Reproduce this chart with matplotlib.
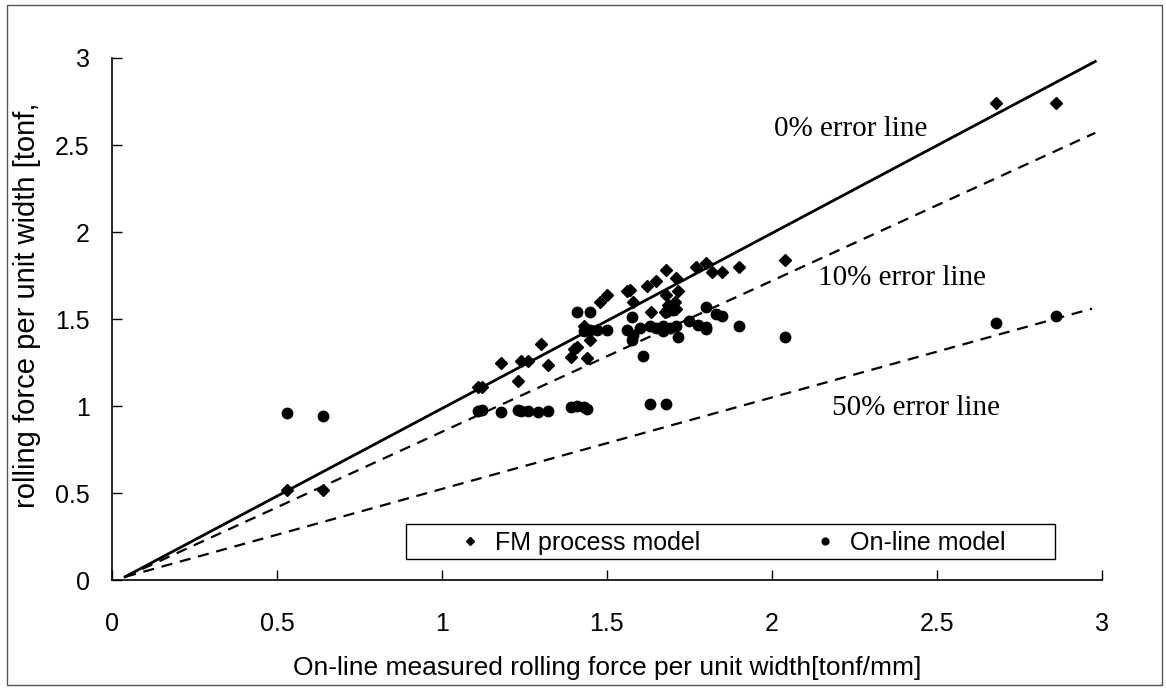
import matplotlib
matplotlib.use("Agg")
import matplotlib.pyplot as plt
from matplotlib.patches import Rectangle

# FM process model (diamonds)
fm_x = [0.53, 0.64, 1.11, 1.12, 1.18, 1.23, 1.24, 1.26, 1.30, 1.32, 1.39, 1.40,
        1.41, 1.43, 1.44, 1.45, 1.48, 1.50, 1.56, 1.57, 1.58, 1.62, 1.635, 1.65,
        1.68, 1.71, 1.68, 1.715, 1.706, 1.71, 1.685, 1.676, 1.77, 1.80, 1.82,
        1.85, 1.90, 2.04, 2.68, 2.86]
fm_y = [0.52, 0.52, 1.11, 1.11, 1.25, 1.145, 1.26, 1.26, 1.36, 1.235, 1.28, 1.33,
        1.34, 1.46, 1.275, 1.38, 1.60, 1.64, 1.66, 1.67, 1.60, 1.69, 1.54, 1.72,
        1.78, 1.735, 1.64, 1.66, 1.60, 1.56, 1.58, 1.54, 1.80, 1.82, 1.77,
        1.77, 1.80, 1.84, 2.74, 2.74]

# On-line model (circles)
ol_x = [0.53, 0.64, 1.11, 1.12, 1.18, 1.23, 1.24, 1.26, 1.29, 1.32, 1.39, 1.41,
        1.43, 1.44, 1.63, 1.68, 1.41, 1.45, 1.43, 1.45, 1.47, 1.50, 1.56, 1.575,
        1.58, 1.575, 1.61, 1.60, 1.63, 1.65, 1.67, 1.69, 1.71, 1.68, 1.70, 1.67,
        1.716, 1.75, 1.775, 1.80, 1.80, 1.83, 1.85, 1.80, 1.90, 2.04, 2.68, 2.86]
ol_y = [0.96, 0.945, 0.975, 0.98, 0.965, 0.98, 0.975, 0.97, 0.965, 0.97, 0.995, 1.0,
        0.995, 0.985, 1.01, 1.015, 1.54, 1.54, 1.43, 1.44, 1.44, 1.44, 1.44, 1.51,
        1.41, 1.38, 1.29, 1.45, 1.46, 1.45, 1.46, 1.45, 1.46, 1.54, 1.55, 1.43,
        1.395, 1.49, 1.465, 1.455, 1.57, 1.53, 1.52, 1.445, 1.46, 1.40, 1.475, 1.52]

# error lines (end points)
line0_x, line0_y = [0.04, 2.98], [0.02, 2.98]
line10_x, line10_y = [0.04, 2.98], [0.02, 2.57]
line50_x, line50_y = [0.04, 2.97], [0.02, 1.56]

ticks = [0, 0.5, 1, 1.5, 2, 2.5, 3]
tick_labels = ['0', '0.5', '1', '1.5', '2', '2.5', '3']

SANS = ['Liberation Sans', 'DejaVu Sans']
SERIF = ['Liberation Serif', 'DejaVu Serif']

fig = plt.figure(figsize=(11.66, 6.9), dpi=100)
ax = fig.add_axes([0.096, 0.159, 0.849, 0.757])

ax.plot(line0_x, line0_y, color='black', lw=2.0, zorder=2)
ax.plot(line10_x, line10_y, color='black', lw=1.6, dashes=(5, 3.5), zorder=2)
ax.plot(line50_x, line50_y, color='black', lw=1.6, dashes=(5, 3.5), zorder=2)

ax.plot(fm_x, fm_y, ls='none', marker='D', ms=6.5, color='black',
        label='FM process model', zorder=3)
ax.plot(ol_x, ol_y, ls='none', marker='o', ms=7.5, color='black',
        label='On-line model', zorder=3)

ax.text(2.24, 2.59, '0% error line', ha='center', va='center',
        fontsize=21, family=SERIF)
ax.text(2.394, 1.736, '10% error line', ha='center', va='center',
        fontsize=21, family=SERIF)
ax.text(2.436, 0.99, '50% error line', ha='center', va='center',
        fontsize=21, family=SERIF)

ax.set_xlim(0, 3)
ax.set_ylim(0, 3)
ax.set_xticks(ticks)
ax.set_yticks(ticks)
ax.set_xticklabels(tick_labels, fontsize=18, family=SANS)
ax.set_yticklabels(tick_labels, fontsize=18, family=SANS)
ax.tick_params(axis='x', direction='in', length=7, pad=23, width=1)
ax.tick_params(axis='y', direction='in', length=7, pad=16, width=1)
ax.spines['top'].set_visible(False)
ax.spines['right'].set_visible(False)
for s in ('left', 'bottom'):
    ax.spines[s].set_linewidth(1.2)

# legend: markers + labels, with its own box
leg = ax.legend(loc='center left', ncol=2, bbox_to_anchor=(0.349, 0.072),
                frameon=False, markerscale=0.65, handlelength=1.0,
                handletextpad=0.5, columnspacing=4.5, borderpad=0,
                borderaxespad=0, prop={'family': SANS, 'size': 18})
ax.add_patch(Rectangle((0.297, 0.040), 0.656, 0.067, transform=ax.transAxes,
                       fill=False, edgecolor='black', lw=1.0, zorder=4))

fig.text(607 / 1166, 1 - 668 / 690,
         'On-line measured rolling force per unit width[tonf/mm]',
         ha='center', va='center', fontsize=19, family=SANS)
fig.text(27 / 1166, 1 - 305 / 690, 'rolling force per unit width [tonf,',
         ha='center', va='center', rotation=90, fontsize=21, family=SANS)

# outer frame around the whole figure
fig.patches.append(Rectangle((7 / 1166, 5 / 690), 1155 / 1166, 680 / 690,
                             transform=fig.transFigure, fill=False,
                             edgecolor='#555555', lw=1.0))

fig.savefig('out.png', dpi=100, facecolor='white')
